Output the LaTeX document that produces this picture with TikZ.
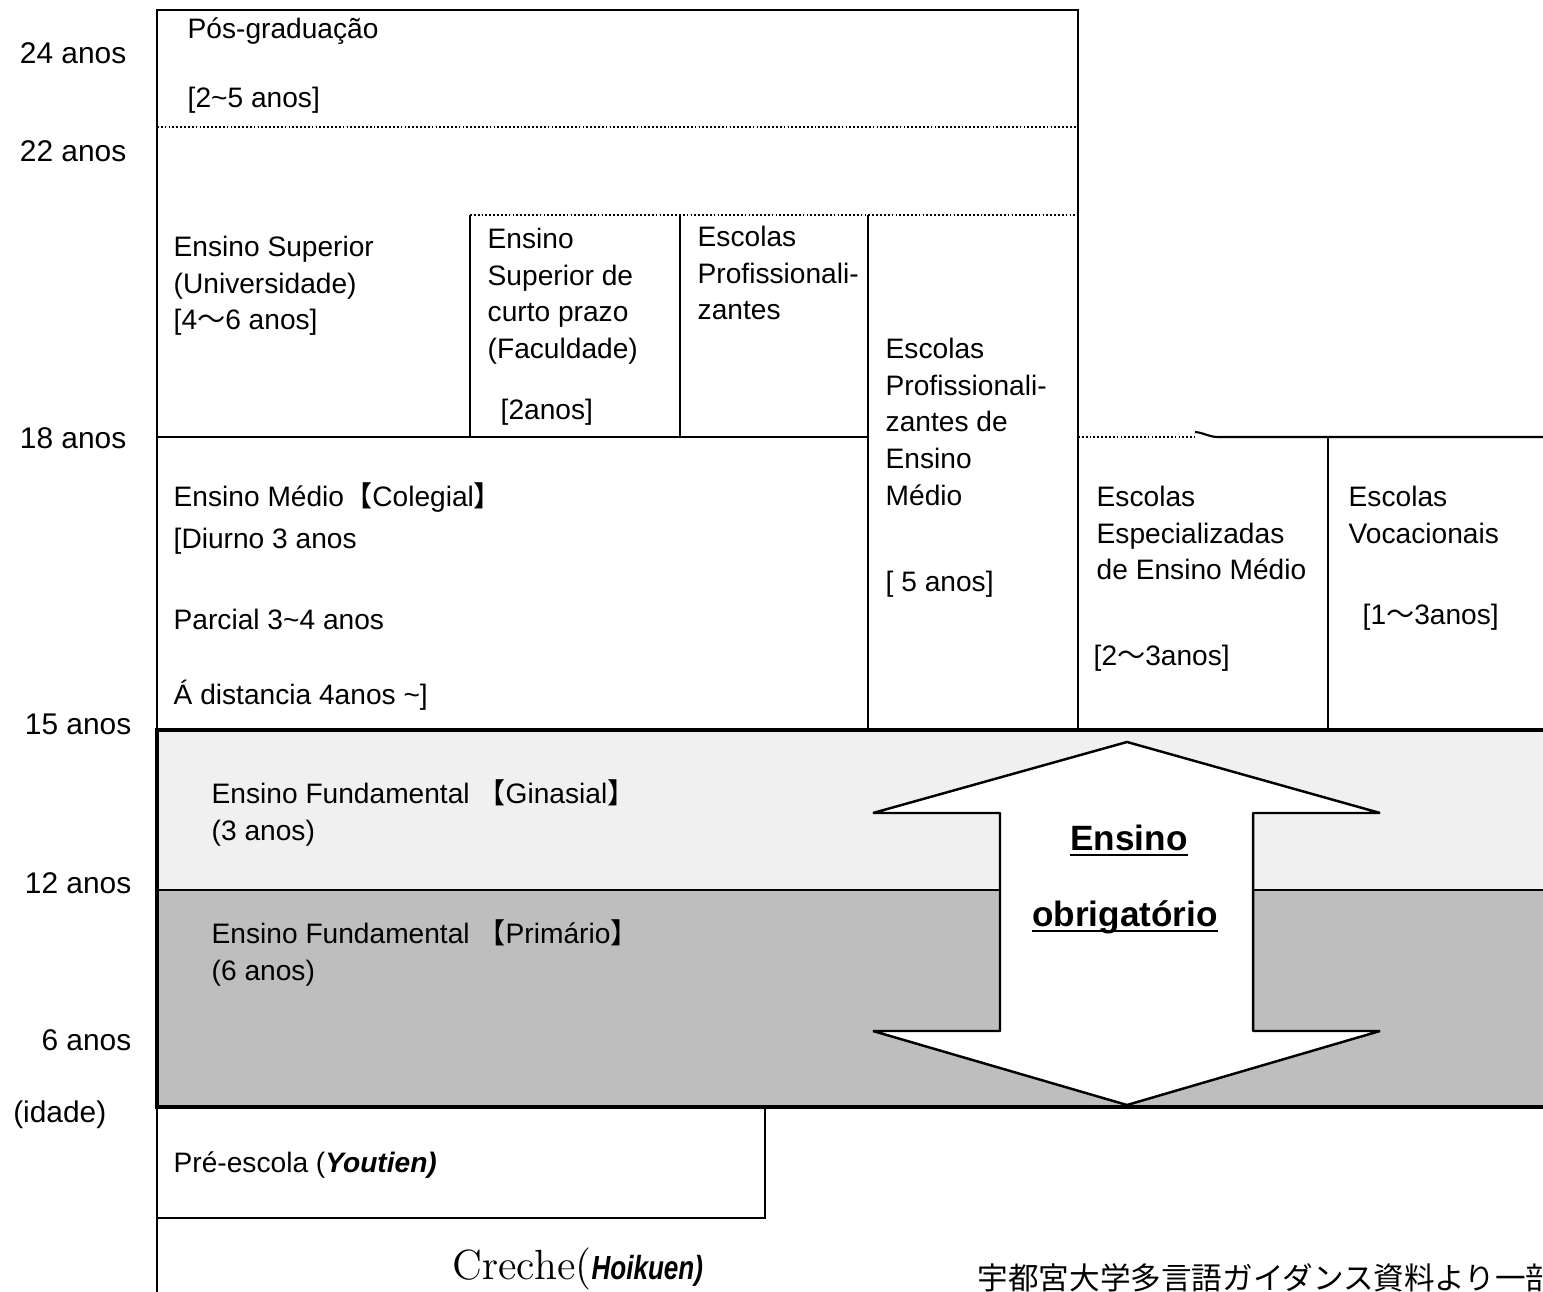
\documentclass[tikz,border=0pt]{standalone}
\usepackage{fontspec}
\usepackage{tikz}
\newfontfamily\arial{Liberation Sans}
\newfontfamily\cjk{Noto Sans CJK JP}
\newcommand{\jl}{{\cjk 【}}
\newcommand{\jr}{{\cjk 】}}
\newcommand{\jt}{{\cjk ～}}
\newcommand{\ulbase}[1]{\underline{\smash{#1}}}
\definecolor{lightband}{RGB}{240,240,240}
\definecolor{darkband}{RGB}{190,190,190}
\tikzset{
    age/.style={font=\arial\fontsize{8.5}{10}\selectfont,inner sep=0pt,anchor=base east},
    txt/.style={font=\arial\fontsize{8}{10.5}\selectfont,inner sep=0pt,align=left},
    thinline/.style={line width=0.6pt},
    thickline/.style={line width=1.3pt},
    dotline/.style={line width=0.5pt,dash pattern=on 0.5pt off 0.6pt},
    bigarrow/.style={draw,fill=white,line width=0.7pt,line join=bevel}
}

\begin{document}
\begin{tikzpicture}[x=0.01cm,y=-0.01cm]
\useasboundingbox (0,0) rectangle (1543,1292);
\clip (0,0) rectangle (1543,1292);

% compulsory band
\fill[lightband] (157,730) rectangle (1560,890);
\fill[darkband] (157,890) rectangle (1560,1107);
\draw[thinline] (157,890) -- (1560,890);
\draw[thickline] (1560,730) -- (157,730) -- (157,1107) -- (1560,1107);

% upper schools
\draw[thinline] (157,1292) -- (157,10) -- (1078,10) -- (1078,730);
\draw[dotline] (157,127) -- (1078,127);
\draw[dotline] (470,215) -- (1078,215);
\draw[thinline] (157,437) -- (868,437);
\draw[thinline] (470,215) -- (470,437);
\draw[thinline] (680,215) -- (680,437);
\draw[thinline] (868,215) -- (868,730);
\draw[dotline] (1078,437) -- (1195,437);
\draw[thinline] (1195,432) to[out=-5,in=180] (1218,437) -- (1543,437);
\draw[thinline] (1328,437) -- (1328,730);

% pre-school
\draw[thinline] (157,1218) -- (765,1218) -- (765,1107);

% double arrow
\draw[bigarrow] (1127,742) -- (1380,813) -- (1253,813) -- (1253,1031) -- (1380,1031)
  -- (1127,1105) -- (873,1031) -- (1000,1031) -- (1000,813) -- (873,813) -- cycle;

% ages
\node[age] (a24) at (127,64) {24 anos};
\node[age] (a22) at (127,162) {22 anos};
\node[age] (a18) at (127,449) {18 anos};
\node[age] (a15) at (132,735) {15 anos};
\node[age] (a12) at (132,893) {12 anos};
\node[age] (a6) at (132,1050) {6 anos};
\node[age] (idade) at (107,1122) {(idade)};

% texts
\node[txt,anchor=base west] (pos) at (187,39) {Pós-graduação};
\node[txt,anchor=base west] (posyr) at (187,108) {[2\textasciitilde5 anos]};
\node[txt,anchor=north west] (univ) at (173,235) {Ensino Superior\\(Universidade)\\{}[4\jt6 anos]};
\node[txt,anchor=north west] (curto) at (487,227) {Ensino\\Superior de\\curto prazo\\(Faculdade)};
\node[txt,anchor=base west] (curtoyr) at (500,420) {[2anos]};
\node[txt,anchor=north west] (prof) at (697,225) {Escolas\\Profissionali-\\zantes};
\node[txt,anchor=north west] (profm) at (885,337) {Escolas\\Profissionali-\\zantes de\\Ensino\\Médio};
\node[txt,anchor=base west] (profmyr) at (885,592) {[ 5 anos]};
\node[txt,anchor=north west] (espec) at (1096,485) {Escolas\\Especializadas\\de Ensino Médio};
\node[txt,anchor=base west] (especyr) at (1093,666) {[2\jt3anos]};
\node[txt,anchor=north west] (voc) at (1348,485) {Escolas\\Vocacionais};
\node[txt,anchor=base west] (vocyr) at (1362,625) {[1\jt3anos]};
\node[txt,anchor=base west] (medio) at (173,507) {Ensino Médio\jl Colegial\jr};
\node[txt,anchor=base west] (diurno) at (173,549) {[Diurno 3 anos};
\node[txt,anchor=base west] (parcial) at (173,630) {Parcial 3\textasciitilde4 anos};
\node[txt,anchor=base west] (dist) at (173,705) {Á distancia 4anos \textasciitilde]};
\node[txt,anchor=north west] (gin) at (211,779) {Ensino Fundamental \jl Ginasial\jr\\(3 anos)};
\node[txt,anchor=north west] (prim) at (211,919) {Ensino Fundamental \jl Primário\jr\\(6 anos)};
\node[txt,anchor=base west] (pre) at (173,1172) {Pré-escola (\textbf{\textit{Youtien)}}};
\node[inner sep=0pt,anchor=base west] (creche) at (452,1279)
  {{\rmfamily\fontsize{12}{14}\selectfont Creche(}\scalebox{0.78}[1]{\arial\bfseries\itshape\fontsize{9.5}{11}\selectfont Hoikuen)}};
\node[inner sep=0pt,anchor=base west,font=\cjk\fontsize{8.7}{10}\selectfont] (fonte) at (977,1289)
  {宇都宮大学多言語ガイダンス資料より一部};

% compulsory label
\node[inner sep=0pt,anchor=base,font=\arial\bfseries\fontsize{10}{12}\selectfont] (obr1) at (1129,850) {\ulbase{Ensino}};
\node[inner sep=0pt,anchor=base,font=\arial\bfseries\fontsize{10}{12}\selectfont] (obr2) at (1125,926) {\ulbase{obrigatório}};
\end{tikzpicture}
\end{document}
